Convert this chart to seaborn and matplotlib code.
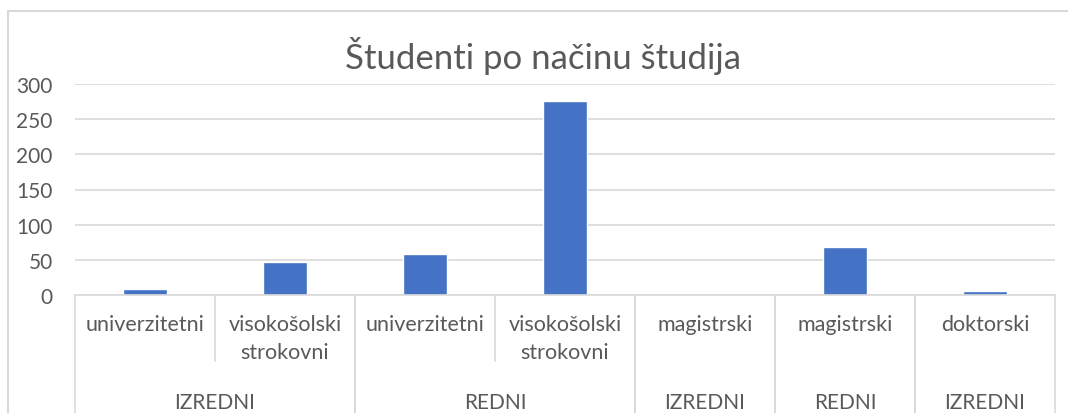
import pandas as pd
import seaborn as sns
import matplotlib.pyplot as plt
from matplotlib.patches import Rectangle

# Podatki (odčitani z grafa)
nacin = ['IZREDNI', 'IZREDNI', 'REDNI', 'REDNI', 'IZREDNI', 'REDNI', 'IZREDNI']
vrsta = ['univerzitetni', 'visokošolski\nstrokovni', 'univerzitetni', 'visokošolski\nstrokovni',
         'magistrski', 'magistrski', 'doktorski']
studenti = [8, 47, 58, 276, 0, 68, 5]

# skupine na zunanji osi (oznaka, prvi indeks, zadnji indeks)
skupine = [('IZREDNI', 0, 1), ('REDNI', 2, 3), ('IZREDNI', 4, 4), ('REDNI', 5, 5), ('IZREDNI', 6, 6)]

siva = '#595959'
mreza = '#D9D9D9'

sns.set_style('white')
plt.rcParams['font.family'] = ['Lato', 'DejaVu Sans']

df = pd.DataFrame({'kljuc': [f'{i}' for i in range(len(vrsta))], 'vrsta': vrsta,
                   'nacin': nacin, 'studenti': studenti})

fig = plt.figure(figsize=(10.68, 4.14), dpi=100)
ax = fig.add_axes([75 / 1068, (414 - 296) / 414, (1055 - 75) / 1068, 211 / 414])

sns.barplot(data=df, x='kljuc', y='studenti', color='#4472C4', width=0.31,
            saturation=1, ax=ax, errorbar=None)

ax.set_ylim(0, 300)
ax.set_xlim(-0.5, len(vrsta) - 0.5)
ax.set_yticks(range(0, 301, 50))
ax.yaxis.grid(True, color=mreza, linewidth=1.2)
ax.set_axisbelow(True)
ax.tick_params(axis='y', length=0, labelsize=15, labelcolor=siva, pad=16)
ax.set_xticks([])
ax.set_xlabel('')
ax.set_ylabel('')
for s in ['top', 'right', 'left']:
    ax.spines[s].set_visible(False)
ax.spines['bottom'].set_color(mreza)
ax.spines['bottom'].set_linewidth(1.2)

trans = ax.get_xaxis_transform()
h = 211.0
spodaj = -(414 - 296) / h
notranja = -(362 - 296) / h

# ločnice zunanjih skupin
for ime, a, b in skupine:
    for x in (a - 0.5, b + 0.5):
        ax.plot([x, x], [0, spodaj], transform=trans, color=mreza, lw=1.2, clip_on=False)
    ax.text((a + b) / 2, -(403 - 296) / h, ime, transform=trans, ha='center', va='center',
            fontsize=15, color=siva)
    # notranje ločnice
    for x in range(a, b):
        ax.plot([x + 0.5, x + 0.5], [0, notranja], transform=trans, color=mreza, lw=1.2,
                clip_on=False)

for i, v in enumerate(vrsta):
    ax.text(i, -(315 - 296) / h, v, transform=trans, ha='center', va='top',
            fontsize=15.5, color=siva, linespacing=1.5)

fig.text(543 / 1068, 1 - 56 / 414, 'Študenti po načinu študija', ha='center', va='center',
         fontsize=25, color=siva)

# okvir grafikona
fig.patches.append(Rectangle((8 / 1068, -0.1), 1.2, (414 - 12) / 414 + 0.1, transform=fig.transFigure,
                             fill=False, edgecolor=mreza, linewidth=1.5))

fig.savefig('out.png', dpi=100)
